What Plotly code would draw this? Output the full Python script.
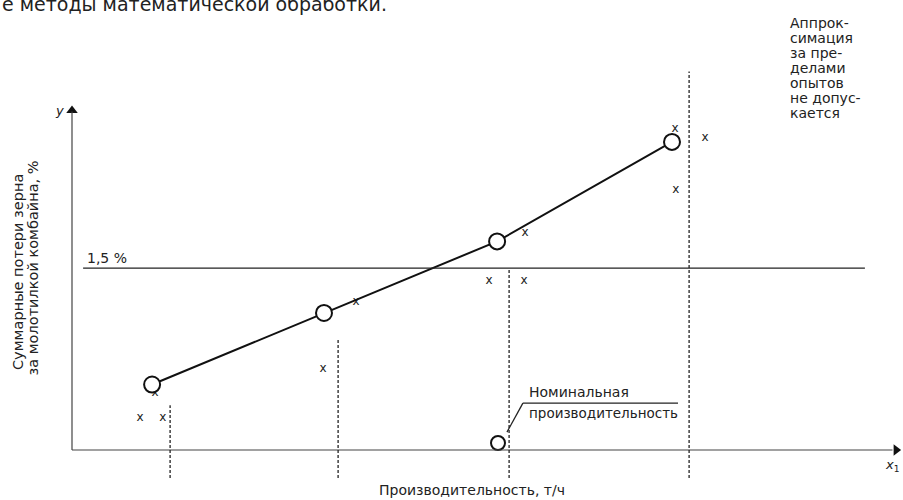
import plotly.graph_objects as go

# ---- data (abstract units: x in t/h-like units, y in % losses) ----
fit_x = [2.67, 8.4, 14.17, 20.0]
fit_y = [0.54, 1.13, 1.72, 2.54]

exp_x = [2.27, 3.03, 2.77, 8.37, 9.47, 13.9, 15.07, 15.1, 20.1, 21.1, 20.13]
exp_y = [0.26, 0.26, 0.47, 0.67, 1.22, 1.39, 1.39, 1.79, 2.65, 2.57, 2.14]

dash_x = [3.27, 8.87, 14.57, 20.57]
dash_top = [0.37, 0.92, 1.5, 3.12]
dash_bottom = -0.23

threshold = 1.5
threshold_label = "1,5 %"

nom_x = [14.2]
nom_y = [0.058]

note_lines = ["Аппрок-", "симация", "за пре-", "делами", "опытов", "не допус-", "кается"]
ylabel_lines = ["Суммарные потери зерна", "за молотилкой комбайна, %"]

X_MIN, X_MAX = -2.4, 27.7
Y_MIN, Y_MAX = -0.412, 3.71

FONT = "DejaVu Sans"
fig = go.Figure()

# axes (drawn manually)
shapes = []
shapes.append(dict(type="line", x0=0, y0=0, x1=0, y1=2.79, line=dict(color="#444", width=1.2)))
shapes.append(dict(type="line", x0=0, y0=0, x1=27.35, y1=0, line=dict(color="#444", width=1.2)))
# threshold line
shapes.append(dict(type="line", x0=0.37, y0=threshold, x1=26.43, y1=threshold, line=dict(color="#222", width=1.2)))
# dashed verticals
for dx, dt in zip(dash_x, dash_top):
    shapes.append(dict(type="line", x0=dx, y0=dash_bottom, x1=dx, y1=dt,
                       line=dict(color="#222", width=1.3, dash="3px,2px")))
# leader for nominal capacity
shapes.append(dict(type="line", x0=14.5, y0=0.148, x1=15.03, y1=0.387, line=dict(color="#222", width=1.3)))
shapes.append(dict(type="line", x0=15.03, y0=0.387, x1=20.2, y1=0.387, line=dict(color="#222", width=1.1)))

# arrowheads
fig.add_trace(go.Scatter(x=[0], y=[2.80], mode="markers",
                         marker=dict(symbol="triangle-up", size=10, color="#111"),
                         hoverinfo="skip"))
fig.add_trace(go.Scatter(x=[27.47], y=[0], mode="markers",
                         marker=dict(symbol="triangle-right", size=10, color="#111"),
                         hoverinfo="skip"))

# experimental points
fig.add_trace(go.Scatter(x=exp_x, y=exp_y, mode="text", text=["x"] * len(exp_x),
                         textfont=dict(family=FONT, size=12, color="#222"),
                         hoverinfo="skip"))

# fitted curve with circles
fig.add_trace(go.Scatter(x=fit_x, y=fit_y, mode="lines+markers",
                         line=dict(color="#111", width=2),
                         marker=dict(symbol="circle", size=16, color="white",
                                     line=dict(color="#111", width=2)),
                         hoverinfo="skip"))
# nominal capacity circle
fig.add_trace(go.Scatter(x=nom_x, y=nom_y, mode="markers",
                         marker=dict(symbol="circle", size=14, color="white",
                                     line=dict(color="#111", width=2)),
                         hoverinfo="skip"))

ann = []
def txt(x, y, s, size=13, xanchor="left", yanchor="middle", **kw):
    ann.append(dict(x=x, y=y, xref="x", yref="y", text=s, showarrow=False,
                    xanchor=xanchor, yanchor=yanchor,
                    font=dict(family=FONT, size=size, color="#222"), **kw))

# clipped document line at top
txt(-2.4, 3.677, "е методы математической обработки.", size=19)
# threshold label
txt(0.43, 1.58, threshold_label, size=14)
# axis symbols
txt(-0.2, 2.80, "<i>y</i>", size=13, xanchor="right")
txt(27.68, -0.124, "<i>x</i><sub>1</sub>", size=13, xanchor="right")
# axis titles
txt(13.33, -0.33, "Производительность, т/ч", size=14, xanchor="center")
txt(-1.8, (450 - 272) / 121.3, ylabel_lines[0], size=14.5, xanchor="center", textangle=-90)
txt(-1.3, (450 - 268.5) / 121.3, ylabel_lines[1], size=14.5, xanchor="center", textangle=-90)
# nominal capacity label
txt(15.17, 0.48, "Номинальная", size=14)
txt(15.17, 0.305, "производительность", size=13.5)
# note at top right
for i, line in enumerate(note_lines):
    ypx = 23.3 + 15 * i
    txt(23.87, (450 - ypx) / 121.3, line, size=14)

fig.update_layout(
    width=903, height=500,
    margin=dict(l=0, r=0, t=0, b=0),
    paper_bgcolor="white", plot_bgcolor="white",
    showlegend=False,
    xaxis=dict(range=[X_MIN, X_MAX], visible=False, fixedrange=True),
    yaxis=dict(range=[Y_MIN, Y_MAX], visible=False, fixedrange=True),
    shapes=shapes, annotations=ann,
)

fig.write_html("out.html", config={"displayModeBar": False},
               post_script="document.body.style.margin='0px';")
